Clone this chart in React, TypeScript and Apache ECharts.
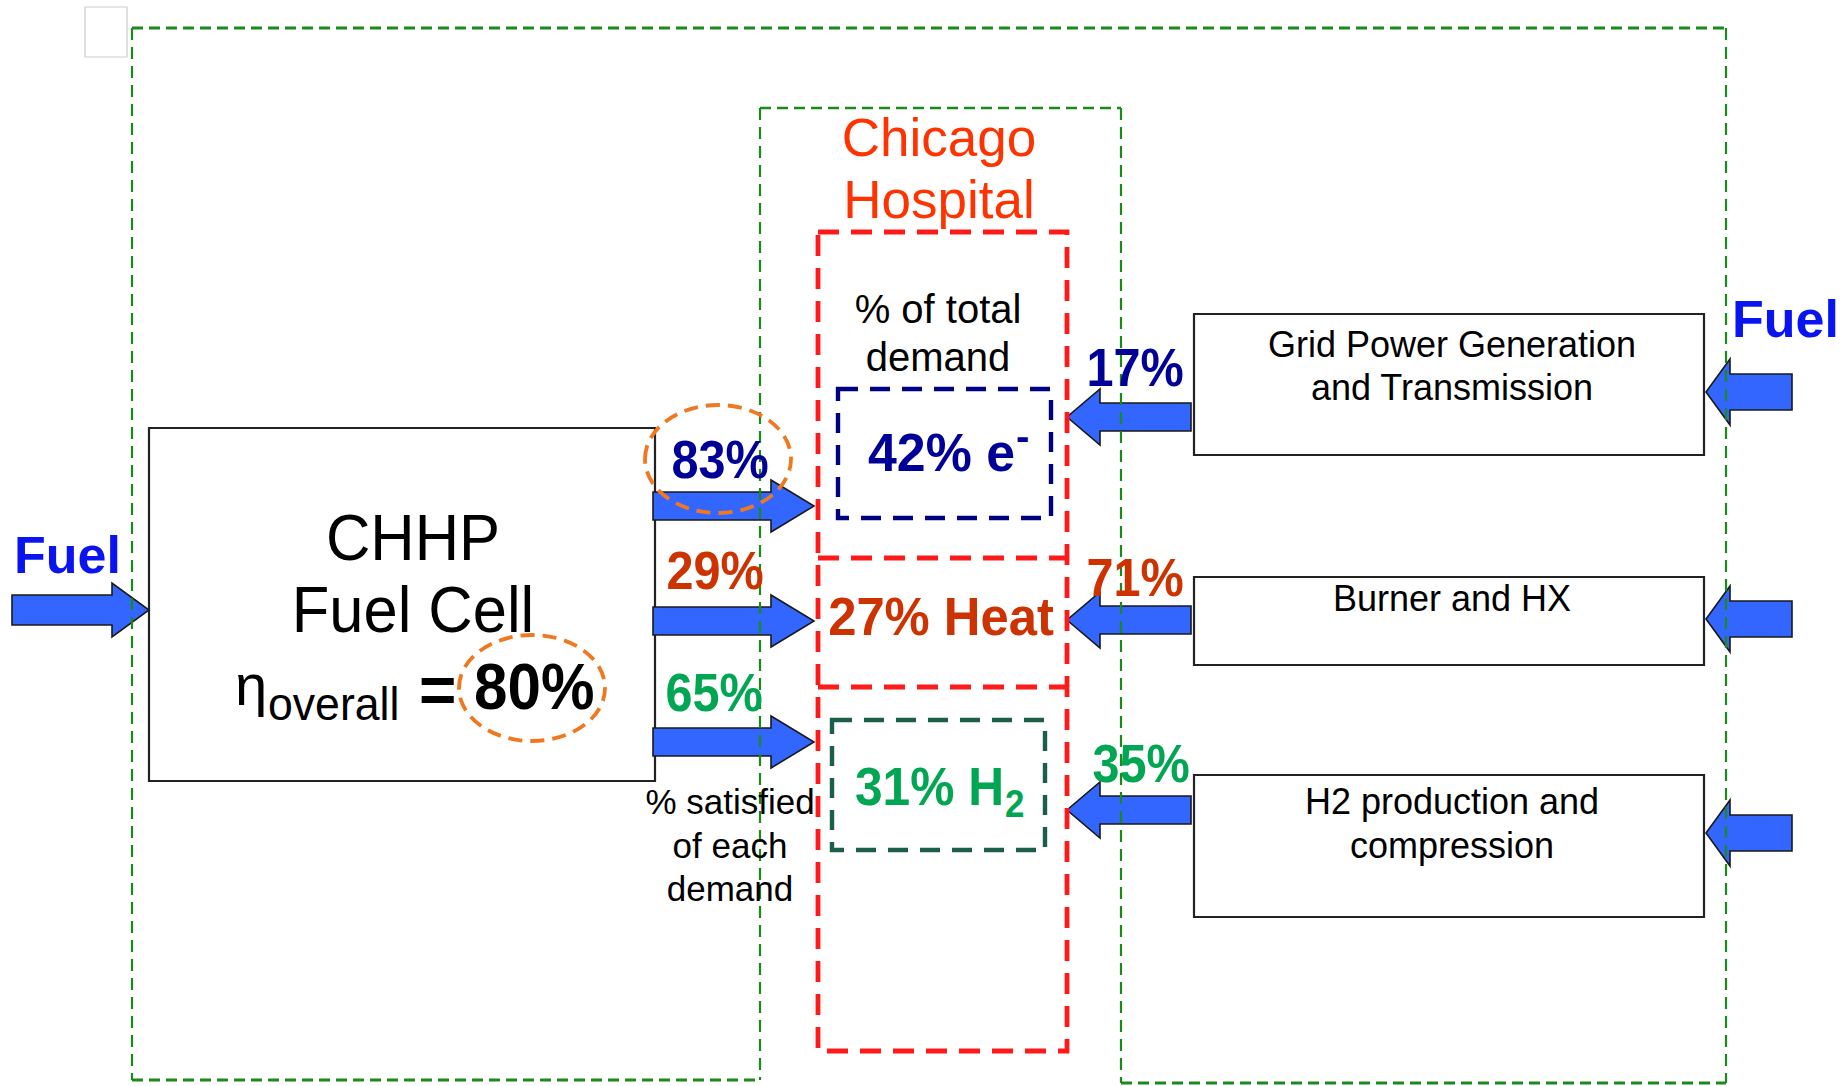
import React, { useEffect, useRef } from "react";
import * as echarts from "echarts";

// ---- content ----
const hospitalTitle = ["Chicago", "Hospital"];
const demandCaption = ["% of total", "demand"];
const satisfiedCaption = ["% satisfied", "of each", "demand"];
const demandShares = ["42% e", "27% Heat", "31% H"];
const demandMarks = ["-", "", "2"];
const chhpShares = ["83%", "29%", "65%"];
const conventionalShares = ["17%", "71%", "35%"];
const conventionalProcesses = [
  ["Grid Power Generation", "and Transmission"],
  ["Burner and HX"],
  ["H2 production and", "compression"],
];
const chhpTitle = ["CHHP", "Fuel Cell"];
const efficiencyParts = ["\u03b7", "overall", "=", "80%"];
const fuelLabel = "Fuel";
const flowColors = ["#000099", "#CC3300", "#00A651"];

const FONT = '"Liberation Sans", Arial, sans-serif';

function txt(
  text: string,
  x: number,
  y: number,
  o: { size: number; weight?: string; color?: string; align?: string; sx?: number }
) {
  return {
    type: "text",
    x,
    y,
    scaleX: o.sx ?? 1,
    z: 20,
    silent: true,
    style: {
      text,
      x: 0,
      y: 0,
      fill: o.color ?? "#000",
      fontSize: o.size,
      fontWeight: o.weight ?? "normal",
      fontFamily: FONT,
      align: o.align ?? "center",
      verticalAlign: "middle",
    },
  };
}

function arrow(tipX: number, tailX: number, yc: number, headX: number, sh: number, hh: number) {
  return {
    type: "polygon",
    z: 5,
    silent: true,
    shape: {
      points: [
        [tailX, yc - sh],
        [headX, yc - sh],
        [headX, yc - hh],
        [tipX, yc],
        [headX, yc + hh],
        [headX, yc + sh],
        [tailX, yc + sh],
      ],
    },
    style: { fill: "#3366FF", stroke: "#1a1a1a", lineWidth: 1.6 },
  };
}

function dline(x1: number, y1: number, x2: number, y2: number, color: string, w: number, dash: number[], z = 10) {
  return {
    type: "line",
    z,
    silent: true,
    shape: { x1, y1, x2, y2 },
    style: { stroke: color, lineWidth: w, lineDash: dash, fill: null },
  };
}

function drect(x: number, y: number, w: number, h: number, stroke: string, lw: number, dash?: number[], z = 3) {
  return {
    type: "rect",
    z,
    silent: true,
    shape: { x, y, width: w, height: h },
    style: { fill: dash ? null : "#fff", stroke, lineWidth: lw, lineDash: dash ?? null },
  };
}

function buildGraphics() {
  const g: any[] = [];
  const green = "#1A8A1A";
  const hd = [11, 6];
  const vd = [12, 7];
  // faint square top-left
  g.push(drect(85, 7, 42, 50, "#cccccc", 1.2, undefined, 1));
  // outer green boundary
  g.push(dline(132, 28, 1726, 28, green, 3.2, hd));
  g.push(dline(132, 28, 132, 1080, green, 2.2, vd));
  g.push(dline(132, 1080, 760, 1080, green, 3.2, hd));
  g.push(dline(760, 108, 760, 1080, green, 2.2, vd));
  g.push(dline(760, 108, 1121, 108, green, 2.6, hd));
  g.push(dline(1121, 108, 1121, 1083, green, 2.2, vd));
  g.push(dline(1121, 1083, 1726, 1083, green, 3.2, hd));
  g.push(dline(1726, 28, 1726, 1083, green, 2.2, vd));

  // CHHP box
  g.push(drect(149, 428, 506, 353, "#222", 2.2));
  // conventional boxes
  const boxY = [314, 577, 775];
  const boxH = [141, 88, 142];
  boxY.forEach((y, i) => g.push(drect(1194, y, 510, boxH[i], "#222", 2.2)));

  // hospital red dashed box
  const red = "#FF1A1A";
  g.push(drect(818, 232, 249, 819, red, 4.8, [21, 12], 12));
  g.push(dline(818, 558, 1067, 558, red, 4.8, [21, 12], 12));
  g.push(dline(818, 687, 1067, 687, red, 4.8, [21, 12], 12));
  // demand boxes
  g.push(drect(838, 389, 213, 129, "#000080", 4.4, [20, 12], 12));
  g.push(drect(832, 720, 213, 130, "#1B5E4B", 4.4, [20, 12], 12));

  // arrows
  g.push(arrow(149, 12, 610, 112, 15, 27));
  const outY = [506, 621, 742];
  outY.forEach((y) => g.push(arrow(814, 653, y, 771, 14, 26)));
  const inY = [417, 620, 810];
  inY.forEach((y) => g.push(arrow(1067, 1191, y, 1100, 14, 28)));
  const fuelY = [392, 619, 833];
  fuelY.forEach((y) => g.push(arrow(1706, 1792, y, 1730, 18, 33)));

  // orange dashed ellipses
  const orange = "#F07820";
  g.push({
    type: "ellipse", z: 15, silent: true,
    shape: { cx: 718, cy: 459, rx: 73, ry: 54 },
    style: { fill: null, stroke: orange, lineWidth: 3.8, lineDash: [14, 8] },
  });
  g.push({
    type: "ellipse", z: 15, silent: true,
    shape: { cx: 532, cy: 688, rx: 73, ry: 53 },
    style: { fill: null, stroke: orange, lineWidth: 3.8, lineDash: [14, 8] },
  });

  // texts
  g.push(txt(hospitalTitle[0], 939, 137, { size: 53, color: "#FF3300" }));
  g.push(txt(hospitalTitle[1], 939, 199, { size: 53, color: "#FF3300" }));
  g.push(txt(demandCaption[0], 938, 309, { size: 40 }));
  g.push(txt(demandCaption[1], 938, 357, { size: 40 }));

  // demand shares
  g.push(txt(demandShares[0], 868, 452, { size: 54, weight: "bold", color: "#000099", align: "left", sx: 0.96 }));
  g.push(txt(demandMarks[0], 1016, 436, { size: 40, weight: "bold", color: "#000099", align: "left" }));
  g.push(txt(demandShares[1], 941, 616, { size: 54, weight: "bold", color: flowColors[1], sx: 0.94 }));
  g.push(txt(demandShares[2], 855, 786, { size: 54, weight: "bold", color: flowColors[2], align: "left", sx: 0.92 }));
  g.push(txt(demandMarks[2], 1005, 804, { size: 38, weight: "bold", color: flowColors[2], align: "left", sx: 0.92 }));

  // CHHP percentages
  const chhpPos = [[720, 459], [715, 570], [714, 692]];
  chhpShares.forEach((s, i) =>
    g.push(txt(s, chhpPos[i][0], chhpPos[i][1], { size: 54, weight: "bold", color: flowColors[i], sx: 0.9 }))
  );
  const convPos = [[1135, 367], [1135, 577], [1141, 763]];
  conventionalShares.forEach((s, i) =>
    g.push(txt(s, convPos[i][0], convPos[i][1], { size: 54, weight: "bold", color: flowColors[i], sx: 0.9 }))
  );

  // CHHP title
  g.push(txt(chhpTitle[0], 413, 538, { size: 64, sx: 0.96 }));
  g.push(txt(chhpTitle[1], 413, 610, { size: 64, sx: 0.96 }));
  g.push(txt(efficiencyParts[0], 235, 684, { size: 58, align: "left" }));
  g.push(txt(efficiencyParts[1], 268, 704, { size: 46, align: "left", sx: 0.97 }));
  g.push(txt(efficiencyParts[2], 419, 690, { size: 64, weight: "bold", align: "left" }));
  g.push(txt(efficiencyParts[3], 474, 687, { size: 64, weight: "bold", align: "left", sx: 0.94 }));

  // fuel labels
  g.push(txt(fuelLabel, 14, 555, { size: 52, weight: "bold", color: "#0A14F0", align: "left" }));
  g.push(txt(fuelLabel, 1732, 319, { size: 52, weight: "bold", color: "#0A14F0", align: "left" }));

  // satisfied caption
  const satY = [801, 845, 888];
  satisfiedCaption.forEach((s, i) => g.push(txt(s, 730, satY[i], { size: 35 })));

  // process box texts
  const procY = [[344, 387], [598], [801, 845]];
  conventionalProcesses.forEach((lines, i) =>
    lines.forEach((l, j) => g.push(txt(l, 1452, procY[i][j], { size: 36 })))
  );
  return g;
}

export default function App() {
  const ref = useRef<HTMLDivElement>(null);
  useEffect(() => {
    if (!ref.current) return;
    const chart = echarts.init(ref.current, undefined, { renderer: "svg" });
    chart.setOption({
      animation: false,
      backgroundColor: "#ffffff",
      graphic: buildGraphics(),
    });
    return () => chart.dispose();
  }, []);
  return (
    <div
      ref={ref}
      style={{ position: "fixed", left: 0, top: 0, width: 1845, height: 1086, background: "#fff" }}
    />
  );
}
